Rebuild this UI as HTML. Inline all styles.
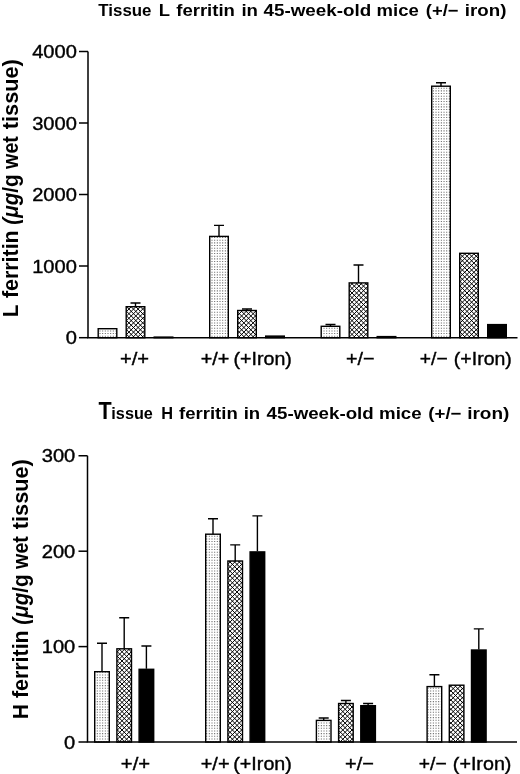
<!DOCTYPE html>
<html lang="en"><head><meta charset="utf-8"><title>Tissue ferritin in 45-week-old mice</title>
<style>
html,body{margin:0;padding:0;background:#fff;}
body{width:520px;height:774px;overflow:hidden;}
svg{display:block;}
text{font-family:"Liberation Sans", Arial, Helvetica, sans-serif;fill:#000;}
.ax{stroke:#000;stroke-width:1.5;fill:none;}
.eb{stroke:#000;stroke-width:1.4;fill:none;}
.bar{stroke:#000;stroke-width:1.4;}
.tk{font-size:18.5px;stroke:#000;stroke-width:0.4px;}
.xl{font-size:19px;stroke:#000;stroke-width:0.4px;}
.ti{font-size:16.5px;font-weight:bold;}
.yl{font-size:21.5px;font-weight:bold;}
</style></head><body>
<svg width="520" height="774" viewBox="0 0 520 774">
<rect width="520" height="774" fill="#fff"/>

<path class="ax" d="M88,51.5 V337.7 H517.5"/>
<path class="ax" d="M79,51.5 H88"/>
<text class="tk" y="58.0"><tspan x="32.20" textLength="44.70" lengthAdjust="spacingAndGlyphs">4000</tspan></text>
<path class="ax" d="M79,123 H88"/>
<text class="tk" y="129.5"><tspan x="32.20" textLength="44.70" lengthAdjust="spacingAndGlyphs">3000</tspan></text>
<path class="ax" d="M79,194.5 H88"/>
<text class="tk" y="201.0"><tspan x="32.20" textLength="44.70" lengthAdjust="spacingAndGlyphs">2000</tspan></text>
<path class="ax" d="M79,266 H88"/>
<text class="tk" y="272.5"><tspan x="32.20" textLength="44.70" lengthAdjust="spacingAndGlyphs">1000</tspan></text>
<path class="ax" d="M79,337.7 H88"/>
<text class="tk" y="344.2"><tspan x="65.75" textLength="11.17" lengthAdjust="spacingAndGlyphs">0</tspan></text>
<path class="eb" d="M135.50,306.7 V303 M130.50,303 H140.50"/>
<path class="eb" d="M219.00,236.4 V225.4 M214.00,225.4 H224.00"/>
<path class="eb" d="M247.00,310.5 V309 M242.00,309 H252.00"/>
<path class="eb" d="M330.50,326.3 V324.5 M325.50,324.5 H335.50"/>
<path class="eb" d="M358.50,282.9 V265 M353.50,265 H363.50"/>
<path class="eb" d="M441.00,86.2 V82.7 M436.00,82.7 H446.00"/>
<text class="xl" y="365.2"><tspan x="119.99" textLength="29.13" lengthAdjust="spacingAndGlyphs">+/+</tspan></text>
<text class="xl" y="365.2"><tspan x="200.71" textLength="28.70" lengthAdjust="spacingAndGlyphs">+/+</tspan> <tspan x="233.52" textLength="58.32" lengthAdjust="spacingAndGlyphs">(+Iron)</tspan></text>
<text class="xl" y="365.2"><tspan x="346.11" textLength="28.49" lengthAdjust="spacingAndGlyphs">+/−</tspan></text>
<text class="xl" y="365.2"><tspan x="419.84" textLength="27.84" lengthAdjust="spacingAndGlyphs">+/−</tspan> <tspan x="453.83" textLength="58.01" lengthAdjust="spacingAndGlyphs">(+Iron)</tspan></text>
<text class="ti" y="16"><tspan x="98.33" textLength="53.16" lengthAdjust="spacingAndGlyphs">Tissue</tspan> <tspan x="158.84" textLength="10.91" lengthAdjust="spacingAndGlyphs">L</tspan> <tspan x="176.22" textLength="58.68" lengthAdjust="spacingAndGlyphs">ferritin</tspan> <tspan x="241.45" textLength="16.55" lengthAdjust="spacingAndGlyphs">in</tspan> <tspan x="263.47" textLength="107.74" lengthAdjust="spacingAndGlyphs">45-week-old</tspan> <tspan x="376.55" textLength="42.19" lengthAdjust="spacingAndGlyphs">mice</tspan> <tspan x="425.88" textLength="32.73" lengthAdjust="spacingAndGlyphs">(+/−</tspan> <tspan x="464.89" textLength="41.58" lengthAdjust="spacingAndGlyphs">iron)</tspan></text>
<text class="yl" y="0" transform="translate(17.6,320) rotate(-90)"><tspan x="2.93" textLength="11.98" lengthAdjust="spacingAndGlyphs">L</tspan> <tspan x="21.98" textLength="67.65" lengthAdjust="spacingAndGlyphs">ferritin</tspan> <tspan x="95.28" textLength="32.00" lengthAdjust="spacingAndGlyphs" font-style="italic">(μg</tspan><tspan x="127.28" textLength="18.38" lengthAdjust="spacingAndGlyphs">/g</tspan> <tspan x="151.10" textLength="32.84" lengthAdjust="spacingAndGlyphs">wet</tspan> <tspan x="190.78" textLength="70.07" lengthAdjust="spacingAndGlyphs">tissue)</tspan></text>
<path class="ax" d="M87.5,455.75 V742 H517"/>
<path class="ax" d="M78.5,455.75 H87.5"/>
<text class="tk" y="462.25"><tspan x="41.75" textLength="33.52" lengthAdjust="spacingAndGlyphs">300</tspan></text>
<path class="ax" d="M78.5,551.2 H87.5"/>
<text class="tk" y="557.7"><tspan x="41.75" textLength="33.52" lengthAdjust="spacingAndGlyphs">200</tspan></text>
<path class="ax" d="M78.5,646.6 H87.5"/>
<text class="tk" y="653.1"><tspan x="41.75" textLength="33.52" lengthAdjust="spacingAndGlyphs">100</tspan></text>
<path class="ax" d="M78.5,742 H87.5"/>
<text class="tk" y="748.5"><tspan x="64.05" textLength="11.17" lengthAdjust="spacingAndGlyphs">0</tspan></text>
<path class="eb" d="M102.00,671.7 V643.3 M97.00,643.3 H107.00"/>
<path class="eb" d="M124.20,648.8 V617.7 M119.20,617.7 H129.20"/>
<path class="eb" d="M146.40,668.7 V646 M141.40,646 H151.40"/>
<path class="eb" d="M213.00,534.2 V518.7 M208.00,518.7 H218.00"/>
<path class="eb" d="M235.20,561 V544.9 M230.20,544.9 H240.20"/>
<path class="eb" d="M257.40,551.3 V515.9 M252.40,515.9 H262.40"/>
<path class="eb" d="M323.70,720.4 V718 M318.70,718 H328.70"/>
<path class="eb" d="M345.90,703.5 V700.5 M340.90,700.5 H350.90"/>
<path class="eb" d="M368.10,705.1 V703.5 M363.10,703.5 H373.10"/>
<path class="eb" d="M434.40,686.6 V674.7 M429.40,674.7 H439.40"/>
<path class="eb" d="M478.80,649.4 V628.9 M473.80,628.9 H483.80"/>
<text class="xl" y="770.0"><tspan x="120.89" textLength="29.35" lengthAdjust="spacingAndGlyphs">+/+</tspan></text>
<text class="xl" y="770.0"><tspan x="200.70" textLength="28.92" lengthAdjust="spacingAndGlyphs">+/+</tspan> <tspan x="233.32" textLength="58.53" lengthAdjust="spacingAndGlyphs">(+Iron)</tspan></text>
<text class="xl" y="770.0"><tspan x="345.10" textLength="28.81" lengthAdjust="spacingAndGlyphs">+/−</tspan></text>
<text class="xl" y="770.0"><tspan x="418.83" textLength="27.95" lengthAdjust="spacingAndGlyphs">+/−</tspan> <tspan x="452.82" textLength="58.63" lengthAdjust="spacingAndGlyphs">(+Iron)</tspan></text>
<text class="ti" y="418.7"><tspan font-size="23.5" x="98.38" textLength="13.15" lengthAdjust="spacingAndGlyphs">T</tspan><tspan x="111.36" textLength="41.49" lengthAdjust="spacingAndGlyphs">issue</tspan> <tspan x="161.19" textLength="11.81" lengthAdjust="spacingAndGlyphs">H</tspan> <tspan x="179.12" textLength="58.63" lengthAdjust="spacingAndGlyphs">ferritin</tspan> <tspan x="243.70" textLength="16.49" lengthAdjust="spacingAndGlyphs">in</tspan> <tspan x="266.62" textLength="107.08" lengthAdjust="spacingAndGlyphs">45-week-old</tspan> <tspan x="379.03" textLength="42.61" lengthAdjust="spacingAndGlyphs">mice</tspan> <tspan x="428.27" textLength="33.26" lengthAdjust="spacingAndGlyphs">(+/−</tspan> <tspan x="467.17" textLength="42.22" lengthAdjust="spacingAndGlyphs">iron)</tspan></text>
<text class="yl" y="0" transform="translate(28.4,720) rotate(-90)"><tspan x="0.64" textLength="15.06" lengthAdjust="spacingAndGlyphs">H</tspan> <tspan x="21.98" textLength="67.65" lengthAdjust="spacingAndGlyphs">ferritin</tspan> <tspan x="95.28" textLength="32.00" lengthAdjust="spacingAndGlyphs" font-style="italic">(μg</tspan><tspan x="127.28" textLength="18.38" lengthAdjust="spacingAndGlyphs">/g</tspan> <tspan x="151.10" textLength="32.84" lengthAdjust="spacingAndGlyphs">wet</tspan> <tspan x="190.78" textLength="70.07" lengthAdjust="spacingAndGlyphs">tissue)</tspan></text>
<defs><clipPath id="cd"><rect x="98.20" y="328.70" width="18.60" height="9.00"/><rect x="209.70" y="236.40" width="18.60" height="101.30"/><rect x="321.20" y="326.30" width="18.60" height="11.40"/><rect x="431.70" y="86.20" width="18.60" height="251.50"/><rect x="94.70" y="671.70" width="14.60" height="70.30"/><rect x="205.70" y="534.20" width="14.60" height="207.80"/><rect x="316.40" y="720.40" width="14.60" height="21.60"/><rect x="427.10" y="686.60" width="14.60" height="55.40"/></clipPath><clipPath id="ch"><rect x="126.20" y="306.70" width="18.60" height="31.00"/><rect x="237.70" y="310.50" width="18.60" height="27.20"/><rect x="349.20" y="282.90" width="18.60" height="54.80"/><rect x="459.70" y="253.30" width="18.60" height="84.40"/><rect x="116.90" y="648.80" width="14.60" height="93.20"/><rect x="227.90" y="561.00" width="14.60" height="181.00"/><rect x="338.60" y="703.50" width="14.60" height="38.50"/><rect x="449.30" y="685.20" width="14.60" height="56.80"/></clipPath></defs>
<g clip-path="url(#cd)"><path d="M1.31,0V774M3.97,0V774M6.64,0V774M9.31,0V774M11.98,0V774M14.64,0V774M17.31,0V774M19.98,0V774M22.64,0V774M25.31,0V774M27.98,0V774M30.64,0V774M33.31,0V774M35.98,0V774M38.65,0V774M41.31,0V774M43.98,0V774M46.65,0V774M49.31,0V774M51.98,0V774M54.65,0V774M57.31,0V774M59.98,0V774M62.65,0V774M65.32,0V774M67.98,0V774M70.65,0V774M73.32,0V774M75.98,0V774M78.65,0V774M81.32,0V774M83.98,0V774M86.65,0V774M89.32,0V774M91.99,0V774M94.65,0V774M97.32,0V774M99.99,0V774M102.65,0V774M105.32,0V774M107.99,0V774M110.65,0V774M113.32,0V774M115.99,0V774M118.66,0V774M121.32,0V774M123.99,0V774M126.66,0V774M129.32,0V774M131.99,0V774M134.66,0V774M137.32,0V774M139.99,0V774M142.66,0V774M145.33,0V774M147.99,0V774M150.66,0V774M153.33,0V774M155.99,0V774M158.66,0V774M161.33,0V774M163.99,0V774M166.66,0V774M169.33,0V774M172.00,0V774M174.66,0V774M177.33,0V774M180.00,0V774M182.66,0V774M185.33,0V774M188.00,0V774M190.66,0V774M193.33,0V774M196.00,0V774M198.67,0V774M201.33,0V774M204.00,0V774M206.67,0V774M209.33,0V774M212.00,0V774M214.67,0V774M217.33,0V774M220.00,0V774M222.67,0V774M225.34,0V774M228.00,0V774M230.67,0V774M233.34,0V774M236.00,0V774M238.67,0V774M241.34,0V774M244.00,0V774M246.67,0V774M249.34,0V774M252.01,0V774M254.67,0V774M257.34,0V774M260.01,0V774M262.67,0V774M265.34,0V774M268.01,0V774M270.67,0V774M273.34,0V774M276.01,0V774M278.67,0V774M281.34,0V774M284.01,0V774M286.68,0V774M289.34,0V774M292.01,0V774M294.68,0V774M297.34,0V774M300.01,0V774M302.68,0V774M305.34,0V774M308.01,0V774M310.68,0V774M313.35,0V774M316.01,0V774M318.68,0V774M321.35,0V774M324.01,0V774M326.68,0V774M329.35,0V774M332.01,0V774M334.68,0V774M337.35,0V774M340.02,0V774M342.68,0V774M345.35,0V774M348.02,0V774M350.68,0V774M353.35,0V774M356.02,0V774M358.68,0V774M361.35,0V774M364.02,0V774M366.69,0V774M369.35,0V774M372.02,0V774M374.69,0V774M377.35,0V774M380.02,0V774M382.69,0V774M385.35,0V774M388.02,0V774M390.69,0V774M393.36,0V774M396.02,0V774M398.69,0V774M401.36,0V774M404.02,0V774M406.69,0V774M409.36,0V774M412.02,0V774M414.69,0V774M417.36,0V774M420.03,0V774M422.69,0V774M425.36,0V774M428.03,0V774M430.69,0V774M433.36,0V774M436.03,0V774M438.69,0V774M441.36,0V774M444.03,0V774M446.70,0V774M449.36,0V774M452.03,0V774M454.70,0V774M457.36,0V774M460.03,0V774M462.70,0V774M465.36,0V774M468.03,0V774M470.70,0V774M473.37,0V774M476.03,0V774M478.70,0V774M481.37,0V774M484.03,0V774M486.70,0V774M489.37,0V774M492.03,0V774M494.70,0V774M497.37,0V774M500.04,0V774M502.70,0V774M505.37,0V774M508.04,0V774M510.70,0V774M513.37,0V774M516.04,0V774M518.70,0V774" stroke="#666" stroke-width="1.05" stroke-dasharray="1.05 1.617" stroke-dashoffset="-2.337" fill="none"/></g>
<g clip-path="url(#ch)"><path d="M-778.18,0L-4.18,774M-773.58,0L0.42,774M-768.98,0L5.02,774M-764.38,0L9.62,774M-759.78,0L14.22,774M-755.18,0L18.82,774M-750.58,0L23.42,774M-745.98,0L28.02,774M-741.38,0L32.62,774M-736.78,0L37.22,774M-732.18,0L41.82,774M-727.58,0L46.42,774M-722.98,0L51.02,774M-718.38,0L55.62,774M-713.78,0L60.22,774M-709.18,0L64.82,774M-704.58,0L69.42,774M-699.98,0L74.02,774M-695.38,0L78.62,774M-690.78,0L83.22,774M-686.18,0L87.82,774M-681.58,0L92.42,774M-676.98,0L97.02,774M-672.38,0L101.62,774M-667.78,0L106.22,774M-663.18,0L110.82,774M-658.58,0L115.42,774M-653.98,0L120.02,774M-649.38,0L124.62,774M-644.78,0L129.22,774M-640.18,0L133.82,774M-635.58,0L138.42,774M-630.98,0L143.02,774M-626.38,0L147.62,774M-621.78,0L152.22,774M-617.18,0L156.82,774M-612.58,0L161.42,774M-607.98,0L166.02,774M-603.38,0L170.62,774M-598.78,0L175.22,774M-594.18,0L179.82,774M-589.58,0L184.42,774M-584.98,0L189.02,774M-580.38,0L193.62,774M-575.78,0L198.22,774M-571.18,0L202.82,774M-566.58,0L207.42,774M-561.98,0L212.02,774M-557.38,0L216.62,774M-552.78,0L221.22,774M-548.18,0L225.82,774M-543.58,0L230.42,774M-538.98,0L235.02,774M-534.38,0L239.62,774M-529.78,0L244.22,774M-525.18,0L248.82,774M-520.58,0L253.42,774M-515.98,0L258.02,774M-511.38,0L262.62,774M-506.78,0L267.22,774M-502.18,0L271.82,774M-497.58,0L276.42,774M-492.98,0L281.02,774M-488.38,0L285.62,774M-483.78,0L290.22,774M-479.18,0L294.82,774M-474.58,0L299.42,774M-469.98,0L304.02,774M-465.38,0L308.62,774M-460.78,0L313.22,774M-456.18,0L317.82,774M-451.58,0L322.42,774M-446.98,0L327.02,774M-442.38,0L331.62,774M-437.78,0L336.22,774M-433.18,0L340.82,774M-428.58,0L345.42,774M-423.98,0L350.02,774M-419.38,0L354.62,774M-414.78,0L359.22,774M-410.18,0L363.82,774M-405.58,0L368.42,774M-400.98,0L373.02,774M-396.38,0L377.62,774M-391.78,0L382.22,774M-387.18,0L386.82,774M-382.58,0L391.42,774M-377.98,0L396.02,774M-373.38,0L400.62,774M-368.78,0L405.22,774M-364.18,0L409.82,774M-359.58,0L414.42,774M-354.98,0L419.02,774M-350.38,0L423.62,774M-345.78,0L428.22,774M-341.18,0L432.82,774M-336.58,0L437.42,774M-331.98,0L442.02,774M-327.38,0L446.62,774M-322.78,0L451.22,774M-318.18,0L455.82,774M-313.58,0L460.42,774M-308.98,0L465.02,774M-304.38,0L469.62,774M-299.78,0L474.22,774M-295.18,0L478.82,774M-290.58,0L483.42,774M-285.98,0L488.02,774M-281.38,0L492.62,774M-276.78,0L497.22,774M-272.18,0L501.82,774M-267.58,0L506.42,774M-262.98,0L511.02,774M-258.38,0L515.62,774M-253.78,0L520.22,774M-249.18,0L524.82,774M-244.58,0L529.42,774M-239.98,0L534.02,774M-235.38,0L538.62,774M-230.78,0L543.22,774M-226.18,0L547.82,774M-221.58,0L552.42,774M-216.98,0L557.02,774M-212.38,0L561.62,774M-207.78,0L566.22,774M-203.18,0L570.82,774M-198.58,0L575.42,774M-193.98,0L580.02,774M-189.38,0L584.62,774M-184.78,0L589.22,774M-180.18,0L593.82,774M-175.58,0L598.42,774M-170.98,0L603.02,774M-166.38,0L607.62,774M-161.78,0L612.22,774M-157.18,0L616.82,774M-152.58,0L621.42,774M-147.98,0L626.02,774M-143.38,0L630.62,774M-138.78,0L635.22,774M-134.18,0L639.82,774M-129.58,0L644.42,774M-124.98,0L649.02,774M-120.38,0L653.62,774M-115.78,0L658.22,774M-111.18,0L662.82,774M-106.58,0L667.42,774M-101.98,0L672.02,774M-97.38,0L676.62,774M-92.78,0L681.22,774M-88.18,0L685.82,774M-83.58,0L690.42,774M-78.98,0L695.02,774M-74.38,0L699.62,774M-69.78,0L704.22,774M-65.18,0L708.82,774M-60.58,0L713.42,774M-55.98,0L718.02,774M-51.38,0L722.62,774M-46.78,0L727.22,774M-42.18,0L731.82,774M-37.58,0L736.42,774M-32.98,0L741.02,774M-28.38,0L745.62,774M-23.78,0L750.22,774M-19.18,0L754.82,774M-14.58,0L759.42,774M-9.98,0L764.02,774M-5.38,0L768.62,774M-0.78,0L773.22,774M3.82,0L777.82,774M8.42,0L782.42,774M13.02,0L787.02,774M17.62,0L791.62,774M22.22,0L796.22,774M26.82,0L800.82,774M31.42,0L805.42,774M36.02,0L810.02,774M40.62,0L814.62,774M45.22,0L819.22,774M49.82,0L823.82,774M54.42,0L828.42,774M59.02,0L833.02,774M63.62,0L837.62,774M68.22,0L842.22,774M72.82,0L846.82,774M77.42,0L851.42,774M82.02,0L856.02,774M86.62,0L860.62,774M91.22,0L865.22,774M95.82,0L869.82,774M100.42,0L874.42,774M105.02,0L879.02,774M109.62,0L883.62,774M114.22,0L888.22,774M118.82,0L892.82,774M123.42,0L897.42,774M128.02,0L902.02,774M132.62,0L906.62,774M137.22,0L911.22,774M141.82,0L915.82,774M146.42,0L920.42,774M151.02,0L925.02,774M155.62,0L929.62,774M160.22,0L934.22,774M164.82,0L938.82,774M169.42,0L943.42,774M174.02,0L948.02,774M178.62,0L952.62,774M183.22,0L957.22,774M187.82,0L961.82,774M192.42,0L966.42,774M197.02,0L971.02,774M201.62,0L975.62,774M206.22,0L980.22,774M210.82,0L984.82,774M215.42,0L989.42,774M220.02,0L994.02,774M224.62,0L998.62,774M229.22,0L1003.22,774M233.82,0L1007.82,774M238.42,0L1012.42,774M243.02,0L1017.02,774M247.62,0L1021.62,774M252.22,0L1026.22,774M256.82,0L1030.82,774M261.42,0L1035.42,774M266.02,0L1040.02,774M270.62,0L1044.62,774M275.22,0L1049.22,774M279.82,0L1053.82,774M284.42,0L1058.42,774M289.02,0L1063.02,774M293.62,0L1067.62,774M298.22,0L1072.22,774M302.82,0L1076.82,774M307.42,0L1081.42,774M312.02,0L1086.02,774M316.62,0L1090.62,774M321.22,0L1095.22,774M325.82,0L1099.82,774M330.42,0L1104.42,774M335.02,0L1109.02,774M339.62,0L1113.62,774M344.22,0L1118.22,774M348.82,0L1122.82,774M353.42,0L1127.42,774M358.02,0L1132.02,774M362.62,0L1136.62,774M367.22,0L1141.22,774M371.82,0L1145.82,774M376.42,0L1150.42,774M381.02,0L1155.02,774M385.62,0L1159.62,774M390.22,0L1164.22,774M394.82,0L1168.82,774M399.42,0L1173.42,774M404.02,0L1178.02,774M408.62,0L1182.62,774M413.22,0L1187.22,774M417.82,0L1191.82,774M422.42,0L1196.42,774M427.02,0L1201.02,774M431.62,0L1205.62,774M436.22,0L1210.22,774M440.82,0L1214.82,774M445.42,0L1219.42,774M450.02,0L1224.02,774M454.62,0L1228.62,774M459.22,0L1233.22,774M463.82,0L1237.82,774M468.42,0L1242.42,774M473.02,0L1247.02,774M477.62,0L1251.62,774M482.22,0L1256.22,774M486.82,0L1260.82,774M491.42,0L1265.42,774M496.02,0L1270.02,774M500.62,0L1274.62,774M505.22,0L1279.22,774M509.82,0L1283.82,774M514.42,0L1288.42,774M519.02,0L1293.02,774M523.62,0L1297.62,774M0.98,0L-773.02,774M5.58,0L-768.42,774M10.18,0L-763.82,774M14.78,0L-759.22,774M19.38,0L-754.62,774M23.98,0L-750.02,774M28.58,0L-745.42,774M33.18,0L-740.82,774M37.78,0L-736.22,774M42.38,0L-731.62,774M46.98,0L-727.02,774M51.58,0L-722.42,774M56.18,0L-717.82,774M60.78,0L-713.22,774M65.38,0L-708.62,774M69.98,0L-704.02,774M74.58,0L-699.42,774M79.18,0L-694.82,774M83.78,0L-690.22,774M88.38,0L-685.62,774M92.98,0L-681.02,774M97.58,0L-676.42,774M102.18,0L-671.82,774M106.78,0L-667.22,774M111.38,0L-662.62,774M115.98,0L-658.02,774M120.58,0L-653.42,774M125.18,0L-648.82,774M129.78,0L-644.22,774M134.38,0L-639.62,774M138.98,0L-635.02,774M143.58,0L-630.42,774M148.18,0L-625.82,774M152.78,0L-621.22,774M157.38,0L-616.62,774M161.98,0L-612.02,774M166.58,0L-607.42,774M171.18,0L-602.82,774M175.78,0L-598.22,774M180.38,0L-593.62,774M184.98,0L-589.02,774M189.58,0L-584.42,774M194.18,0L-579.82,774M198.78,0L-575.22,774M203.38,0L-570.62,774M207.98,0L-566.02,774M212.58,0L-561.42,774M217.18,0L-556.82,774M221.78,0L-552.22,774M226.38,0L-547.62,774M230.98,0L-543.02,774M235.58,0L-538.42,774M240.18,0L-533.82,774M244.78,0L-529.22,774M249.38,0L-524.62,774M253.98,0L-520.02,774M258.58,0L-515.42,774M263.18,0L-510.82,774M267.78,0L-506.22,774M272.38,0L-501.62,774M276.98,0L-497.02,774M281.58,0L-492.42,774M286.18,0L-487.82,774M290.78,0L-483.22,774M295.38,0L-478.62,774M299.98,0L-474.02,774M304.58,0L-469.42,774M309.18,0L-464.82,774M313.78,0L-460.22,774M318.38,0L-455.62,774M322.98,0L-451.02,774M327.58,0L-446.42,774M332.18,0L-441.82,774M336.78,0L-437.22,774M341.38,0L-432.62,774M345.98,0L-428.02,774M350.58,0L-423.42,774M355.18,0L-418.82,774M359.78,0L-414.22,774M364.38,0L-409.62,774M368.98,0L-405.02,774M373.58,0L-400.42,774M378.18,0L-395.82,774M382.78,0L-391.22,774M387.38,0L-386.62,774M391.98,0L-382.02,774M396.58,0L-377.42,774M401.18,0L-372.82,774M405.78,0L-368.22,774M410.38,0L-363.62,774M414.98,0L-359.02,774M419.58,0L-354.42,774M424.18,0L-349.82,774M428.78,0L-345.22,774M433.38,0L-340.62,774M437.98,0L-336.02,774M442.58,0L-331.42,774M447.18,0L-326.82,774M451.78,0L-322.22,774M456.38,0L-317.62,774M460.98,0L-313.02,774M465.58,0L-308.42,774M470.18,0L-303.82,774M474.78,0L-299.22,774M479.38,0L-294.62,774M483.98,0L-290.02,774M488.58,0L-285.42,774M493.18,0L-280.82,774M497.78,0L-276.22,774M502.38,0L-271.62,774M506.98,0L-267.02,774M511.58,0L-262.42,774M516.18,0L-257.82,774M520.78,0L-253.22,774M525.38,0L-248.62,774M529.98,0L-244.02,774M534.58,0L-239.42,774M539.18,0L-234.82,774M543.78,0L-230.22,774M548.38,0L-225.62,774M552.98,0L-221.02,774M557.58,0L-216.42,774M562.18,0L-211.82,774M566.78,0L-207.22,774M571.38,0L-202.62,774M575.98,0L-198.02,774M580.58,0L-193.42,774M585.18,0L-188.82,774M589.78,0L-184.22,774M594.38,0L-179.62,774M598.98,0L-175.02,774M603.58,0L-170.42,774M608.18,0L-165.82,774M612.78,0L-161.22,774M617.38,0L-156.62,774M621.98,0L-152.02,774M626.58,0L-147.42,774M631.18,0L-142.82,774M635.78,0L-138.22,774M640.38,0L-133.62,774M644.98,0L-129.02,774M649.58,0L-124.42,774M654.18,0L-119.82,774M658.78,0L-115.22,774M663.38,0L-110.62,774M667.98,0L-106.02,774M672.58,0L-101.42,774M677.18,0L-96.82,774M681.78,0L-92.22,774M686.38,0L-87.62,774M690.98,0L-83.02,774M695.58,0L-78.42,774M700.18,0L-73.82,774M704.78,0L-69.22,774M709.38,0L-64.62,774M713.98,0L-60.02,774M718.58,0L-55.42,774M723.18,0L-50.82,774M727.78,0L-46.22,774M732.38,0L-41.62,774M736.98,0L-37.02,774M741.58,0L-32.42,774M746.18,0L-27.82,774M750.78,0L-23.22,774M755.38,0L-18.62,774M759.98,0L-14.02,774M764.58,0L-9.42,774M769.18,0L-4.82,774M773.78,0L-0.22,774M778.38,0L4.38,774M782.98,0L8.98,774M787.58,0L13.58,774M792.18,0L18.18,774M796.78,0L22.78,774M801.38,0L27.38,774M805.98,0L31.98,774M810.58,0L36.58,774M815.18,0L41.18,774M819.78,0L45.78,774M824.38,0L50.38,774M828.98,0L54.98,774M833.58,0L59.58,774M838.18,0L64.18,774M842.78,0L68.78,774M847.38,0L73.38,774M851.98,0L77.98,774M856.58,0L82.58,774M861.18,0L87.18,774M865.78,0L91.78,774M870.38,0L96.38,774M874.98,0L100.98,774M879.58,0L105.58,774M884.18,0L110.18,774M888.78,0L114.78,774M893.38,0L119.38,774M897.98,0L123.98,774M902.58,0L128.58,774M907.18,0L133.18,774M911.78,0L137.78,774M916.38,0L142.38,774M920.98,0L146.98,774M925.58,0L151.58,774M930.18,0L156.18,774M934.78,0L160.78,774M939.38,0L165.38,774M943.98,0L169.98,774M948.58,0L174.58,774M953.18,0L179.18,774M957.78,0L183.78,774M962.38,0L188.38,774M966.98,0L192.98,774M971.58,0L197.58,774M976.18,0L202.18,774M980.78,0L206.78,774M985.38,0L211.38,774M989.98,0L215.98,774M994.58,0L220.58,774M999.18,0L225.18,774M1003.78,0L229.78,774M1008.38,0L234.38,774M1012.98,0L238.98,774M1017.58,0L243.58,774M1022.18,0L248.18,774M1026.78,0L252.78,774M1031.38,0L257.38,774M1035.98,0L261.98,774M1040.58,0L266.58,774M1045.18,0L271.18,774M1049.78,0L275.78,774M1054.38,0L280.38,774M1058.98,0L284.98,774M1063.58,0L289.58,774M1068.18,0L294.18,774M1072.78,0L298.78,774M1077.38,0L303.38,774M1081.98,0L307.98,774M1086.58,0L312.58,774M1091.18,0L317.18,774M1095.78,0L321.78,774M1100.38,0L326.38,774M1104.98,0L330.98,774M1109.58,0L335.58,774M1114.18,0L340.18,774M1118.78,0L344.78,774M1123.38,0L349.38,774M1127.98,0L353.98,774M1132.58,0L358.58,774M1137.18,0L363.18,774M1141.78,0L367.78,774M1146.38,0L372.38,774M1150.98,0L376.98,774M1155.58,0L381.58,774M1160.18,0L386.18,774M1164.78,0L390.78,774M1169.38,0L395.38,774M1173.98,0L399.98,774M1178.58,0L404.58,774M1183.18,0L409.18,774M1187.78,0L413.78,774M1192.38,0L418.38,774M1196.98,0L422.98,774M1201.58,0L427.58,774M1206.18,0L432.18,774M1210.78,0L436.78,774M1215.38,0L441.38,774M1219.98,0L445.98,774M1224.58,0L450.58,774M1229.18,0L455.18,774M1233.78,0L459.78,774M1238.38,0L464.38,774M1242.98,0L468.98,774M1247.58,0L473.58,774M1252.18,0L478.18,774M1256.78,0L482.78,774M1261.38,0L487.38,774M1265.98,0L491.98,774M1270.58,0L496.58,774M1275.18,0L501.18,774M1279.78,0L505.78,774M1284.38,0L510.38,774M1288.98,0L514.98,774M1293.58,0L519.58,774M1298.18,0L524.18,774" stroke="#000" stroke-width="1.0" fill="none"/></g>
<rect class="bar" x="98.20" y="328.70" width="18.60" height="9.00" fill="none"/>
<rect class="bar" x="126.20" y="306.70" width="18.60" height="31.00" fill="none"/>
<rect class="bar" x="154.20" y="337.10" width="18.60" height="0.60" fill="#000"/>
<rect class="bar" x="209.70" y="236.40" width="18.60" height="101.30" fill="none"/>
<rect class="bar" x="237.70" y="310.50" width="18.60" height="27.20" fill="none"/>
<rect class="bar" x="265.70" y="336.10" width="18.60" height="1.60" fill="#000"/>
<rect class="bar" x="321.20" y="326.30" width="18.60" height="11.40" fill="none"/>
<rect class="bar" x="349.20" y="282.90" width="18.60" height="54.80" fill="none"/>
<rect class="bar" x="377.20" y="336.60" width="18.60" height="1.10" fill="#000"/>
<rect class="bar" x="431.70" y="86.20" width="18.60" height="251.50" fill="none"/>
<rect class="bar" x="459.70" y="253.30" width="18.60" height="84.40" fill="none"/>
<rect class="bar" x="487.70" y="324.60" width="18.60" height="13.10" fill="#000"/>
<rect class="bar" x="94.70" y="671.70" width="14.60" height="70.30" fill="none"/>
<rect class="bar" x="116.90" y="648.80" width="14.60" height="93.20" fill="none"/>
<rect class="bar" x="139.10" y="669.30" width="14.60" height="72.70" fill="#000"/>
<rect class="bar" x="205.70" y="534.20" width="14.60" height="207.80" fill="none"/>
<rect class="bar" x="227.90" y="561.00" width="14.60" height="181.00" fill="none"/>
<rect class="bar" x="250.10" y="551.90" width="14.60" height="190.10" fill="#000"/>
<rect class="bar" x="316.40" y="720.40" width="14.60" height="21.60" fill="none"/>
<rect class="bar" x="338.60" y="703.50" width="14.60" height="38.50" fill="none"/>
<rect class="bar" x="360.80" y="705.70" width="14.60" height="36.30" fill="#000"/>
<rect class="bar" x="427.10" y="686.60" width="14.60" height="55.40" fill="none"/>
<rect class="bar" x="449.30" y="685.20" width="14.60" height="56.80" fill="none"/>
<rect class="bar" x="471.50" y="650.00" width="14.60" height="92.00" fill="#000"/>
</svg></body></html>
